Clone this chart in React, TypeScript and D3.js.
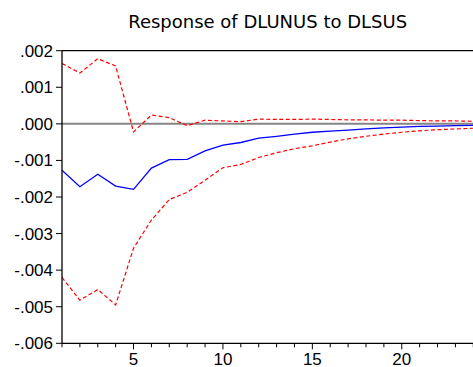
import React from "react";
import * as d3 from "d3";

// Impulse response horizon (periods)
const periods = d3.range(1, 25);

// Response of DLUNUS to a shock in DLSUS
const response = [
  -0.00127, -0.00172, -0.00138, -0.0017, -0.00179, -0.00121, -0.00098, -0.00097,
  -0.00074, -0.00058, -0.00051, -0.00039, -0.00034, -0.00028, -0.00023, -0.0002,
  -0.00017, -0.00014, -0.00011, -0.00009, -0.00007, -0.00006, -0.00005, -0.00004,
];

// Upper confidence band (+2 S.E.)
const upperBand = [
  0.00165, 0.00139, 0.00178, 0.00158, -0.00022, 0.00024, 0.00017, -0.00005,
  0.0001, 0.00008, 0.00006, 0.00013, 0.00012, 0.00012, 0.00013, 0.00012,
  0.00011, 0.00011, 0.0001, 0.0001, 0.00009, 0.00008, 0.00008, 0.00007,
];

// Lower confidence band (-2 S.E.)
const lowerBand = [
  -0.0042, -0.00482, -0.00453, -0.00495, -0.0034, -0.00263, -0.00207, -0.00187,
  -0.00154, -0.0012, -0.00111, -0.00092, -0.00079, -0.00068, -0.0006, -0.0005,
  -0.00041, -0.00034, -0.00028, -0.00023, -0.00019, -0.00016, -0.00014, -0.00012,
];

const yTicks = [0.002, 0.001, 0, -0.001, -0.002, -0.003, -0.004, -0.005, -0.006];
const xLabelTicks = [5, 10, 15, 20];

const W = 473;
const H = 367;
const left = 62;
const right = 473.3;
const top = 50.7;
const bottom = 343.3;

const x = d3.scaleLinear().domain([1, 24]).range([left, right]);
const y = d3.scaleLinear().domain([-0.006, 0.002]).range([bottom, top]);

const fmt = (v: number) => {
  const s = d3.format(".3f")(Math.abs(v)).replace(/^0/, "");
  return v < 0 ? "-" + s : s;
};

const lineGen = d3
  .line<number>()
  .x((_, i) => x(periods[i]))
  .y((d) => y(d));

export default function App() {
  const font = "'Liberation Sans', Arial, sans-serif";
  return (
    <svg
      width={W}
      height={H}
      style={{ position: "absolute", left: 0, top: 0, background: "#fff" }}
    >
      <text
        x={(left + right) / 2}
        y={28}
        textAnchor="middle"
        fontFamily="'DejaVu Sans', Verdana, sans-serif"
        fontSize={18}
        fill="#000"
      >
        Response of DLUNUS to DLSUS
      </text>

      {/* zero reference line */}
      <line x1={left} x2={right} y1={y(0)} y2={y(0)} stroke="#858585" strokeWidth={2} />

      {/* confidence bands */}
      <path d={lineGen(upperBand) || ""} fill="none" stroke="#ff0000" strokeWidth={1.2} strokeDasharray="4 2.5" />
      <path d={lineGen(lowerBand) || ""} fill="none" stroke="#ff0000" strokeWidth={1.2} strokeDasharray="4 2.5" />

      {/* response */}
      <path d={lineGen(response) || ""} fill="none" stroke="#0000ff" strokeWidth={1.3} />

      {/* frame */}
      <line x1={left} x2={right} y1={top} y2={top} stroke="#000" strokeWidth={1.3} />
      <line x1={left} x2={left} y1={top} y2={bottom} stroke="#000" strokeWidth={1.3} />
      <line x1={left} x2={right} y1={bottom} y2={bottom} stroke="#000" strokeWidth={1.3} />

      {/* y axis */}
      {yTicks.map((t) => (
        <g key={t}>
          <line x1={left - 6} x2={left} y1={y(t)} y2={y(t)} stroke="#000" strokeWidth={1} />
          <text
            x={left - 9}
            y={y(t) + 6}
            textAnchor="end"
            fontFamily={font}
            fontSize={17}
            fill="#000"
          >
            {fmt(t)}
          </text>
        </g>
      ))}

      {/* x axis */}
      {periods.map((p) => (
        <line
          key={p}
          x1={x(p)}
          x2={x(p)}
          y1={bottom}
          y2={bottom + (p % 5 === 0 ? 6 : 4)}
          stroke="#000"
          strokeWidth={1}
        />
      ))}
      {xLabelTicks.map((t) => (
        <text
          key={t}
          x={x(t)}
          y={365}
          textAnchor="middle"
          fontFamily={font}
          fontSize={17}
          fill="#000"
        >
          {t}
        </text>
      ))}
    </svg>
  );
}
